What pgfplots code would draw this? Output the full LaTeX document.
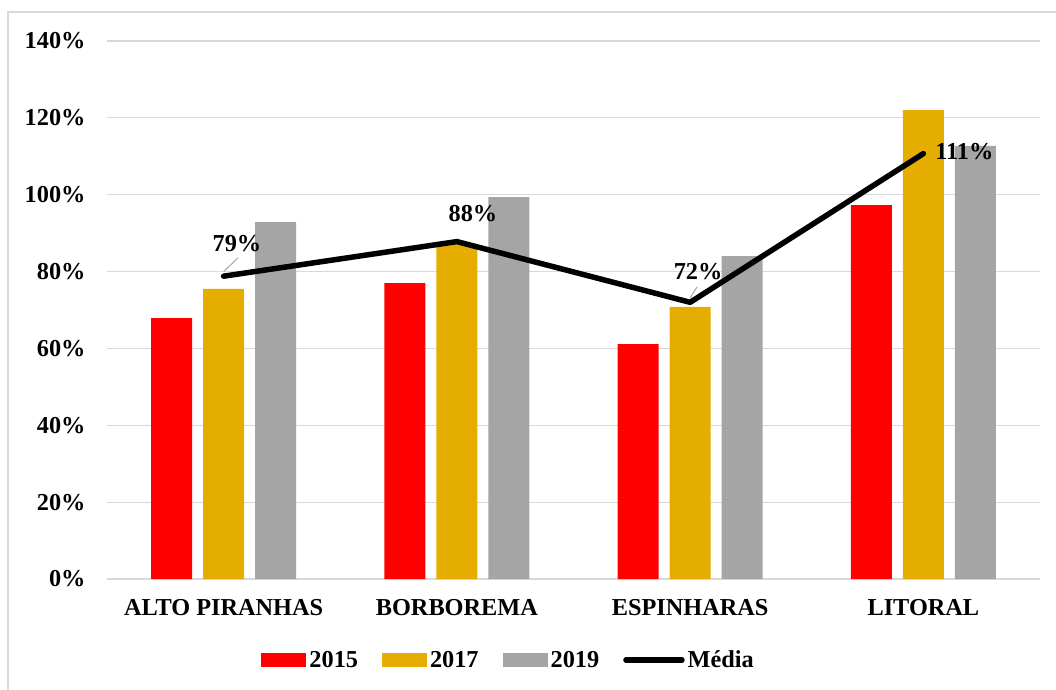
\documentclass[border=0pt]{standalone}
\usepackage{fontspec}
\setmainfont{Liberation Serif}
\usepackage{pgfplots}
\pgfplotsset{compat=1.18}
\definecolor{cRed}{HTML}{FF0000}
\definecolor{cYel}{HTML}{E5AD00}
\definecolor{cGry}{HTML}{A5A5A5}
\definecolor{cGrid}{HTML}{D9D9D9}
\begin{document}
\begin{tikzpicture}[x=1bp,y=1bp]
\path[use as bounding box] (0,0) rectangle (1056,-690);
\draw[cGrid,line width=1.5bp] (8,-690) -- (8,-12) -- (1056,-12);
\begin{axis}[
  at={(107bp,-579bp)}, anchor=south west,
  scale only axis, width=933bp, height=538bp,
  xmin=-0.5, xmax=3.5, ymin=0, ymax=140,
  axis line style={draw=none},
  ymajorgrids, grid style={cGrid,line width=1.2bp},
  ytick={0,20,...,140},
  yticklabel={\pgfmathprintnumber{\tick}\%},
  xtick={0,1,2,3},
  xticklabels={ALTO PIRANHAS,BORBOREMA,ESPINHARAS,LITORAL},
  tick style={draw=none},
  font=\fontsize{24.3bp}{26bp}\selectfont\bfseries,
  /pgf/number format/assume math mode=true,
  yticklabel style={anchor=east,xshift=-18bp},
  xticklabel style={yshift=-17bp},
  legend style={at={(0.4305,-0.1506)}, anchor=center, draw=none, fill=none,
    legend columns=-1, font=\fontsize{24.3bp}{26bp}\selectfont\bfseries,
    /tikz/every odd column/.append style={column sep=1bp},
    /tikz/every even column/.append style={column sep=22bp}},
  legend cell align=left,
]
\addplot[ybar, bar width=41bp, bar shift=-52bp, fill=cRed, draw=none,
  legend image code/.code={\fill[cRed] (0bp,-7bp) rectangle (45bp,7bp);}]
  coordinates {(0,67.9) (1,77.0) (2,61.1) (3,97.3)};
\addlegendentry{2015}
\addplot[ybar, bar width=41bp, bar shift=0bp, fill=cYel, draw=none,
  legend image code/.code={\fill[cYel] (0bp,-7bp) rectangle (45bp,7bp);}]
  coordinates {(0,75.5) (1,87.2) (2,70.8) (3,122.0)};
\addlegendentry{2017}
\addplot[ybar, bar width=41bp, bar shift=52bp, fill=cGry, draw=none,
  legend image code/.code={\fill[cGry] (0bp,-7bp) rectangle (45bp,7bp);}]
  coordinates {(0,92.9) (1,99.4) (2,84.0) (3,112.7)};
\addlegendentry{2019}
\addplot[black, line width=5.5bp, line cap=round, line join=round, mark=none,
  legend image code/.code={\draw[black,line width=5.5bp,line cap=round] (3bp,0) -- (48bp,0); \path (0,0) -- (56bp,0);}]
  coordinates {(0,78.8) (1,87.8) (2,72.0) (3,110.7)};
\addlegendentry{Média}
\draw[gray!70, line width=1bp] (axis cs:0.0,80.0) -- (axis cs:0.062,83.6);
\draw[gray!70, line width=1bp] (axis cs:2.0,73.2) -- (axis cs:2.03,76.0);
\node[font=\fontsize{24.3bp}{26bp}\selectfont\bfseries] at (axis cs:0.057,87.2) {79\%};
\node[font=\fontsize{24.3bp}{26bp}\selectfont\bfseries] at (axis cs:1.069,95.2) {88\%};
\node[font=\fontsize{24.3bp}{26bp}\selectfont\bfseries] at (axis cs:2.034,80.1) {72\%};
\node[font=\fontsize{24.3bp}{26bp}\selectfont\bfseries, anchor=west, inner sep=0pt] at (axis cs:3.05,111.1) {111\%};
\end{axis}
\end{tikzpicture}
\end{document}
